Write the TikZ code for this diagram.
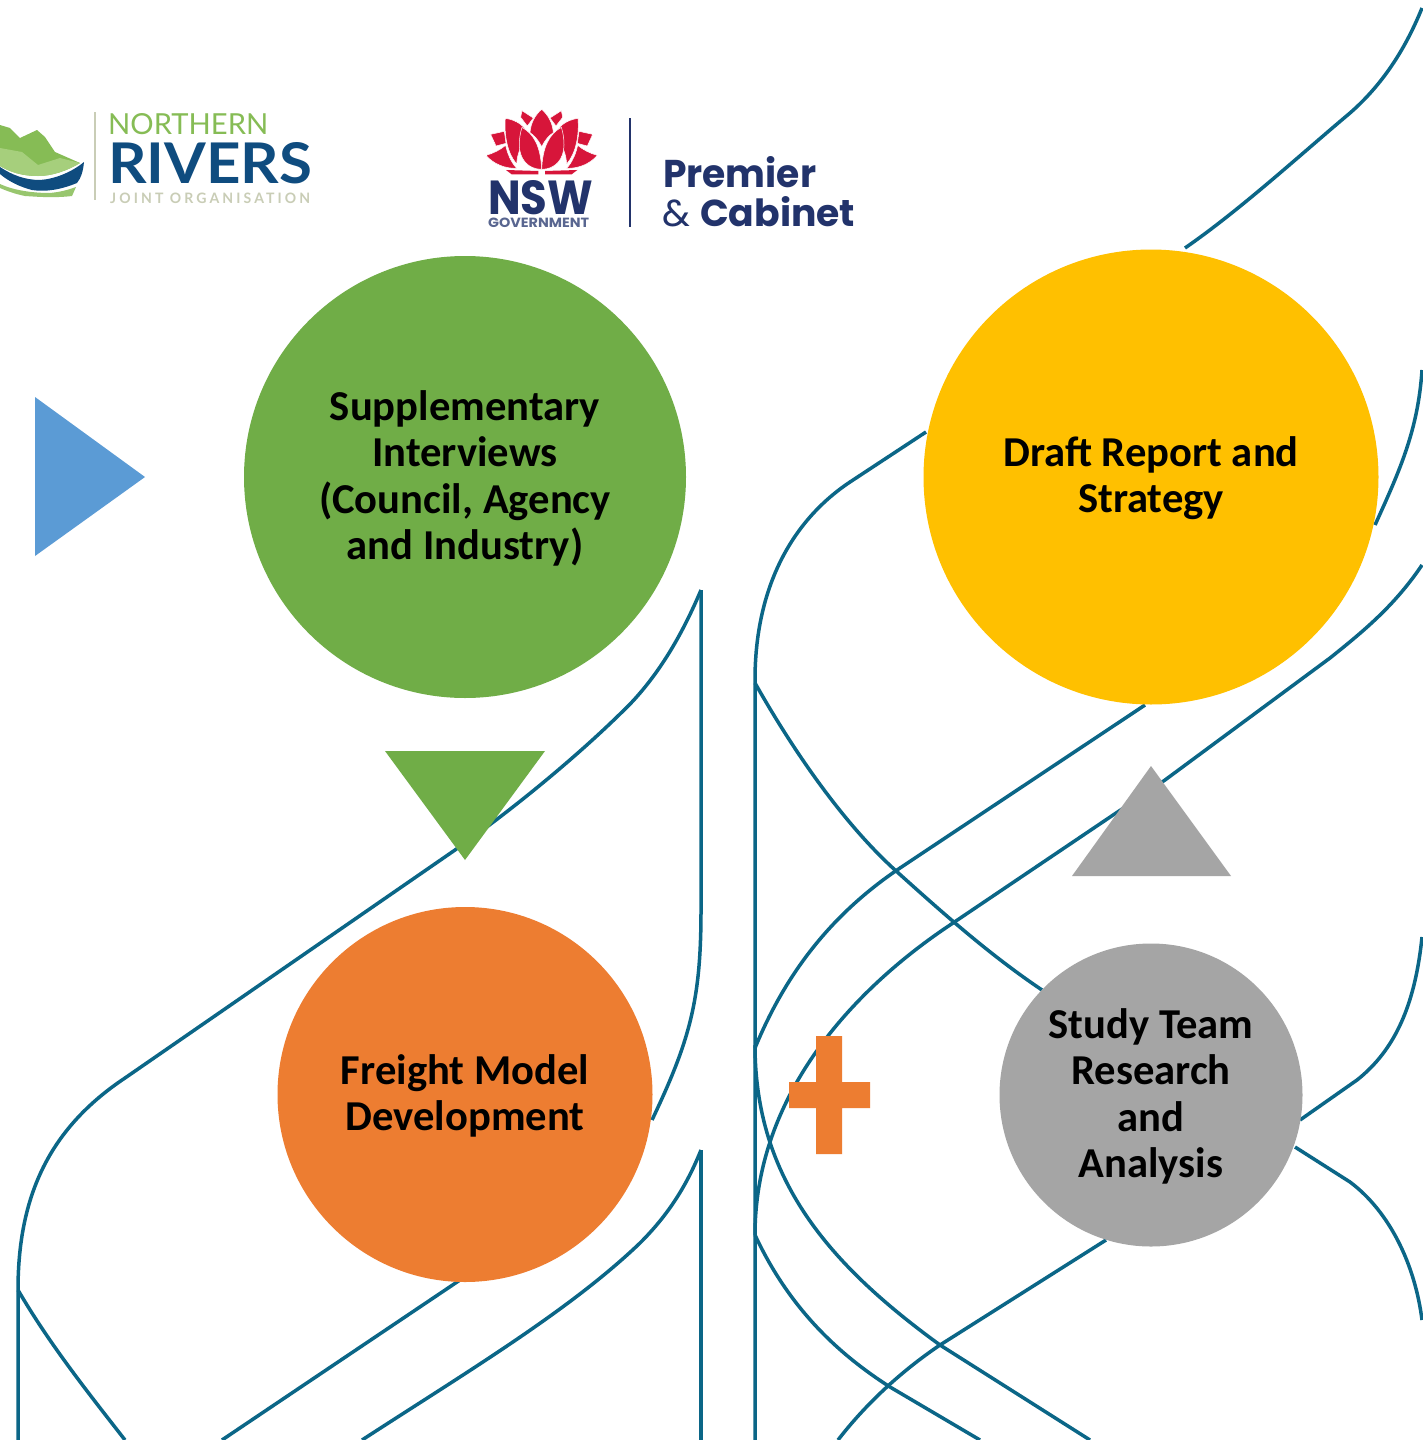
\documentclass[tikz,border=0pt]{standalone}
\usepackage{fontspec}
\usepackage{graphicx}
\setmainfont{Carlito}
\newfontfamily\lat{Lato}
\newfontfamily\pop{Poppins}
\definecolor{teal}{HTML}{0B6687}
\definecolor{cgreen}{HTML}{70AD47}
\definecolor{corange}{HTML}{ED7D31}
\definecolor{cyellow}{HTML}{FFC000}
\definecolor{cgray}{HTML}{A5A5A5}
\definecolor{cblue}{HTML}{5B9BD5}
\definecolor{nrgreen}{HTML}{86BC55}
\definecolor{nrlight}{HTML}{A6CF7C}
\definecolor{nrdark}{HTML}{0F4C7F}
\definecolor{nrgray}{HTML}{C9CDB6}
\definecolor{nswred}{HTML}{D7153A}
\definecolor{navy}{HTML}{22336B}
\tikzset{
  wire/.style={draw=teal,line width=3.5pt},
  blob/.style={circle,inner sep=0pt,minimum size=#1},
  lbl/.style={align=center,text=black,inner sep=0pt,font=\fontsize{42.6}{46.5}\selectfont\bfseries},
  logotext/.style={inner sep=0pt,anchor=base west},
  petal/.style={fill=nswred,draw=white,line width=0.5pt}
}
\newcommand{\halflotus}{%
  \path[petal] (156,62) -- (190,84) -- (172,108) -- (152,82) -- cycle;
  \path[petal] (106,85) .. controls (140,90) and (168,108) .. (176,140) .. controls (152,165) and (142,190) .. (140,222) .. controls (112,190) and (102,135) .. (106,85) -- cycle;
  \path[petal] (62,133) -- (103,124) -- (108,160) -- (78,168) -- cycle;
  \path[petal] (48,196) .. controls (70,190) and (90,180) .. (107,166) .. controls (112,190) and (122,215) .. (140,235) .. controls (105,236) and (70,222) .. (48,196) -- cycle;
  \path[fill=nswred] (108,240) -- (205,243) -- (205,253) -- (125,253) -- cycle;
  \path[petal] (156,112) .. controls (192,132) and (212,170) .. (215,238) .. controls (175,238) and (148,208) .. (148,165) .. controls (148,148) and (150,130) .. (156,112) -- cycle;
}
\begin{document}
\begin{tikzpicture}[x=1pt,y=-1pt]
\useasboundingbox (0,0) rectangle (1422,1440);
\fill[white] (0,0) rectangle (1422,1440);

% teal background lines
\draw[wire] (701,590) .. controls (682,635) and (660,672) .. (632,702) .. controls (585,750) and (515,808) .. (455,850) -- (125,1078) .. controls (50,1128) and (18,1195) .. (18,1290) -- (18,1440);
\draw[wire] (701,590) -- (701,910) .. controls (701,1000) and (690,1040) .. (652,1120);
\draw[wire] (701,1150) -- (701,1440);
\draw[wire] (701,1150) .. controls (685,1190) and (665,1218) .. (640,1243) .. controls (570,1310) and (470,1370) .. (362,1440);
\draw[wire] (460,1280) -- (222,1440);
\draw[wire] (18,1290) .. controls (50,1345) and (90,1395) .. (125,1440);
\draw[wire] (926,432) -- (850,482) .. controls (790,522) and (755,590) .. (755,680) -- (755,1440);
\draw[wire] (755,683) .. controls (790,745) and (840,820) .. (895,870) .. controls (945,915) and (990,955) .. (1042,990);
\draw[wire] (1145,705) -- (900,868) .. controls (830,915) and (785,975) .. (755,1048);
\draw[wire] (1422,565) .. controls (1395,605) and (1365,630) .. (1330,658) -- (1165,780) -- (950,925) .. controls (860,985) and (755,1090) .. (755,1235);
\draw[wire] (755,1045) .. controls (755,1180) and (830,1265) .. (940,1345) -- (1090,1440);
\draw[wire] (755,1235) .. controls (790,1310) and (840,1355) .. (890,1387) -- (980,1440);
\draw[wire] (1106,1240) -- (940,1345) .. controls (900,1372) and (865,1405) .. (838,1440);
\draw[wire] (1422,8) .. controls (1405,50) and (1382,85) .. (1350,113) .. controls (1300,155) and (1240,210) .. (1185,248);
\draw[wire] (1422,370) .. controls (1418,430) and (1400,470) .. (1375,525);
\draw[wire] (1422,937) .. controls (1415,1005) and (1395,1050) .. (1357,1080) -- (1300,1120);
\draw[wire] (1295,1147) -- (1350,1182) .. controls (1390,1212) and (1415,1265) .. (1422,1320);

% main circles
\node[blob=442pt,fill=cgreen] (interviews) at (465,477) {};
\node[blob=375pt,fill=corange] (freight) at (465,1094.5) {};
\node[blob=455pt,fill=cyellow] (draft) at (1151,477) {};
\node[blob=303pt,fill=cgray] (study) at (1151,1095) {};

\node[lbl] (interviewstext) at (465,478.5) {Supplementary\\Interviews\\(Council, Agency\\and Industry)};
\node[lbl] (freighttext) at (465,1096) {Freight Model\\Development};
\node[lbl] (drafttext) at (1151,478) {Draft Report and\\Strategy};
\node[lbl] (studytext) at (1151,1096.5) {Study Team\\Research\\and\\Analysis};

% triangles and plus
\fill[cblue] (35,397) -- (145,477) -- (35,556) -- cycle;
\fill[cgreen] (385,751) -- (545,751) -- (465,860) -- cycle;
\fill[cgray] (1072,876) -- (1231,876) -- (1151,766) -- cycle;
\fill[corange] (816,1036) -- (842,1036) -- (842,1082) -- (870,1082) -- (870,1108) -- (842,1108) -- (842,1154) -- (816,1154) -- (816,1108) -- (789,1108) -- (789,1082) -- (816,1082) -- cycle;

% Northern Rivers logo
\begin{scope}
\clip (0,60) rectangle (360,250);
\fill[nrgreen] (0,125) -- (10,128) -- (20,138) -- (37,130) -- (45,137) -- (55,152) -- (80,163) .. controls (65,172) and (50,176) .. (38,176) .. controls (22,176) and (10,172) .. (0,166) -- cycle;
\fill[nrlight] (0,148) -- (22,152) -- (38,165) -- (60,158) -- (80,163) .. controls (65,172) and (50,176) .. (38,176) .. controls (22,176) and (10,172) .. (0,166) -- cycle;
\fill[nrdark] (84,162) .. controls (83,172) and (81,178) .. (77,183) .. controls (60,190) and (45,192) .. (32,190) .. controls (20,187) and (8,181) .. (0,174) -- (0,167) .. controls (12,175) and (25,180) .. (40,180) .. controls (55,179) and (72,172) .. (84,162) -- cycle;
\fill[nrgreen!85!white] (0,184) .. controls (15,191) and (35,193) .. (50,193) .. controls (60,192) and (68,190) .. (76,187) -- (72,196) .. controls (55,198) and (40,197) .. (25,196) .. controls (15,194) and (7,191) .. (0,188) -- cycle;
\end{scope}
\draw[nrgray,line width=1.6pt] (95,112) -- (95,200);
\node[logotext,text=nrgreen] (northern) at (108,134) {\resizebox{160pt}{21pt}{\lat NORTHERN}};
\node[logotext,text=nrdark] (rivers) at (108,183) {\resizebox{204pt}{41pt}{\lat\bfseries RIVERS}};
\node[logotext,text=nrgray] (joint) at (110,203) {\resizebox{200pt}{10.5pt}{\lat\bfseries\addfontfeature{LetterSpace=22}JOINT ORGANISATION}};

% NSW logo
\begin{scope}[shift={(470,90)},x=0.3333pt,y=-0.3333pt]
\path[petal] (215,58) .. controls (235,75) and (248,100) .. (250,128) .. controls (238,135) and (225,150) .. (215,170) .. controls (205,150) and (192,135) .. (180,128) .. controls (182,100) and (195,75) .. (215,58) -- cycle;
\halflotus
\begin{scope}[xshift=143.33pt,xscale=-1]
\halflotus
\end{scope}
\end{scope}
\node[logotext,text=navy] (nsw) at (488,214) {\resizebox{105pt}{34pt}{\pop\bfseries NSW}};
\node[logotext,text=navy!75!white] (gov) at (488,227) {\resizebox{101pt}{9.5pt}{\pop\bfseries GOVERNMENT}};
\draw[navy,line width=2.6pt] (630,118) -- (630,227);
\node[logotext,text=navy] (premier) at (663,187) {\resizebox{153pt}{31pt}{\pop\bfseries Premier}};
\node[logotext,text=navy] (cabinet) at (662,226) {\resizebox{193pt}{30pt}{\pop\&\ \bfseries Cabinet}};
\end{tikzpicture}
\end{document}
